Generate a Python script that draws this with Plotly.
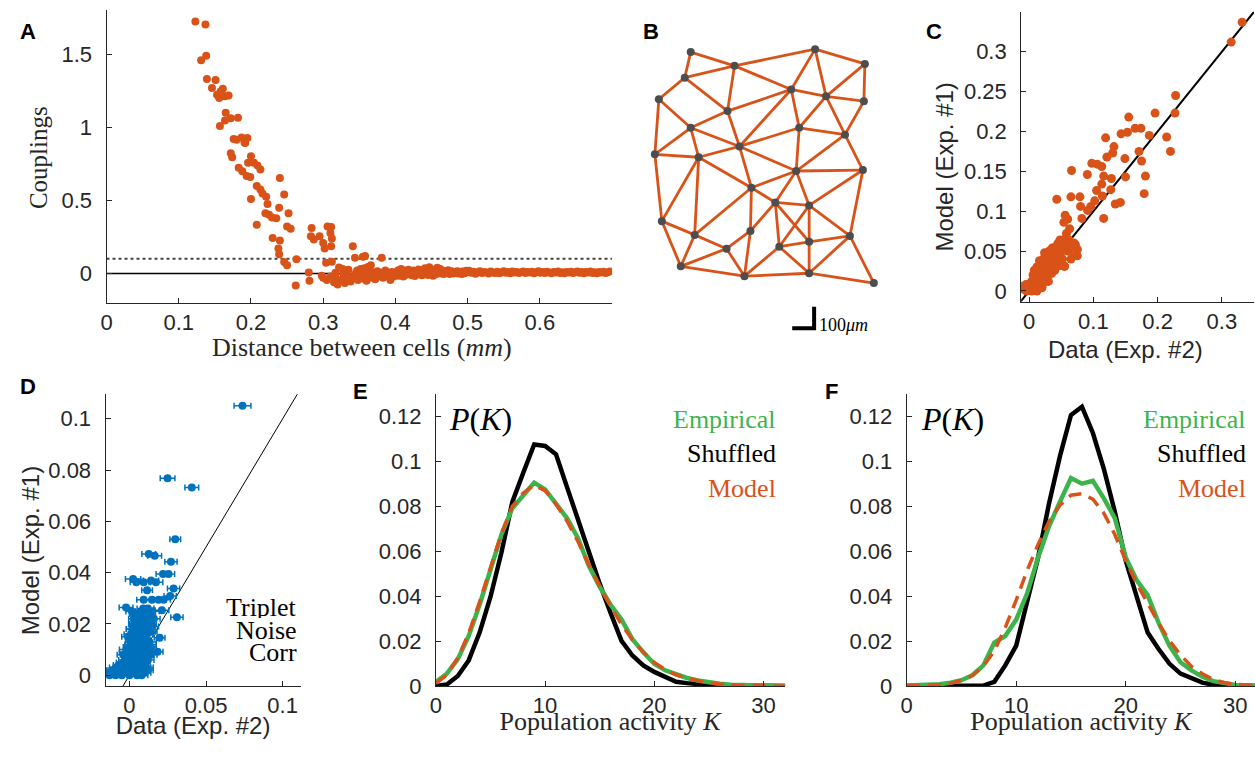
import plotly.graph_objects as go

W, H = 1255, 759
ORANGE = '#D95319'
GREEN = '#3CB44B'
BLUE = '#0072BD'
GRAY = '#4D4D4D'
AX = '#262626'

# ---------------- Panel A: couplings vs distance ----------------
a_dist = [0.123,0.137,0.131,0.138,0.139,0.151,0.146,0.153,0.156,0.158,0.161,0.164,0.169,0.157,0.165,0.164,0.172,0.182,
          0.176,0.180,0.187,0.191,0.195,0.192,0.172,0.174,0.183,0.188,0.194,0.199,0.196,0.200,0.204,0.209,0.213,0.200,
          0.208,0.213,0.216,0.221,0.223,0.220,0.225,0.229,0.235,0.208,0.239,0.240,0.246,0.252,0.250,0.255,0.230,0.240,
          0.238,0.239,0.246,0.250,0.263,0.262,0.280,0.281,0.284,0.283,0.287,0.295,0.300,0.302,0.306,0.311,0.310,0.312,
          0.311,0.304,0.312,0.298,0.322,0.341,0.344,0.355,0.358,0.366,0.381,
          0.300,0.305,0.310,0.315,0.318,0.320,0.325,0.328,0.330,0.333,0.336,0.338,0.342,0.345,0.348,0.350,0.352,0.355,
          0.358,0.360,0.362,0.365,0.368,0.370,0.372,0.375,0.378,0.380,0.383,0.386,0.390,0.393,0.395,0.398,0.317,0.327,
          0.347,0.362,0.335,0.357,
          0.402,0.405,0.408,0.410,0.413,0.415,0.418,0.420,0.423,0.425,0.428,0.430,0.433,0.436,0.438,0.441,0.443,0.445,
          0.447,0.449,0.451,0.454,0.456,0.458,0.460,0.463,0.466,0.469,0.472,0.475,0.478,0.481,0.484,0.487,0.490,0.493,
          0.496,0.499,0.502,0.505,0.508,0.511,0.514,0.517,0.520,0.523,0.526,0.529,0.532,0.535,0.538,0.541,0.544,0.547,
          0.550,0.553,0.556,0.559,0.562,0.565,0.568,0.571,0.574,0.577,0.580,0.583,0.586,0.589,0.592,0.595,0.598,0.601,
          0.604,0.607,0.610,0.613,0.616,0.619,0.622,0.625,0.628,0.631,0.634,0.637,0.640,0.643,0.646,0.649,0.652,0.655,
          0.658,0.661,0.664,0.667,0.670,0.673,0.676,0.679,0.682,0.685,0.688,0.691,0.694,0.697,
          0.404,0.411,0.417,0.422,0.427,0.432,0.437,0.442,0.448,0.452,0.457,0.462,0.467,0.473,0.480,0.486,0.492,0.498]
a_coupling = [1.723,1.703,1.459,1.489,1.331,1.324,1.268,1.223,1.200,1.245,1.263,1.212,1.218,1.009,1.099,1.047,1.061,1.065,
              0.919,0.914,0.930,0.896,0.926,0.892,0.822,0.795,0.723,0.700,0.667,0.660,0.757,0.802,0.757,0.739,0.712,0.509,
              0.599,0.574,0.547,0.525,0.475,0.412,0.401,0.383,0.378,0.333,0.450,0.653,0.541,0.412,0.322,0.306,0.243,0.225,
              0.171,0.131,0.079,0.056,0.097,-0.083,0.007,-0.050,0.311,0.255,0.232,0.255,0.209,0.171,0.322,0.318,0.277,0.239,
              0.187,0.074,0.081,-0.016,0.041,0.187,0.108,0.115,0.119,0.056,0.108,
              -0.030,-0.045,-0.020,-0.060,-0.035,-0.075,-0.050,-0.010,-0.065,-0.040,-0.020,-0.055,-0.030,0.000,-0.045,-0.015,
              0.030,-0.035,0.010,-0.050,-0.020,0.020,-0.030,0.000,-0.040,0.015,-0.020,0.005,-0.030,0.020,-0.010,-0.045,0.010,
              -0.020,0.005,0.030,0.020,0.045,0.025,0.035,
              0.012,-0.015,0.030,0.000,0.018,-0.008,0.025,0.005,-0.012,0.020,0.002,0.010,-0.005,0.015,0.000,0.035,0.008,-0.010,
              0.042,0.020,0.005,0.025,-0.006,0.040,0.012,0.000,0.018,0.006,0.010,-0.004,0.015,0.004,0.012,0.000,0.008,0.014,
              0.002,0.010,0.018,0.005,0.012,-0.002,0.009,0.015,0.003,0.011,0.006,0.000,0.013,0.007,0.004,0.012,0.001,0.009,
              0.015,0.005,0.010,0.002,0.013,0.007,0.011,0.003,0.009,0.014,0.004,0.010,0.006,0.012,0.001,0.008,0.015,0.005,
              0.010,0.003,0.012,0.007,0.002,0.011,0.006,0.013,0.004,0.009,0.001,0.010,0.006,0.012,0.003,0.008,0.014,0.005,
              0.010,0.002,0.011,0.006,0.013,0.004,0.009,0.001,0.010,0.007,0.012,0.003,0.009,0.014,
              0.022,-0.020,0.008,0.015,-0.018,0.028,-0.012,0.003,0.012,-0.015,0.008,0.030,-0.004,0.022,0.000,0.016,-0.003,0.019]
a_threshold = 0.1
a_xrange = [0, 0.7]
a_yrange = [-0.2, 1.8]

# ---------------- Panel B: network of cells ----------------
node_x = [688,813,732,863,682,656,789,824,862,725,688,797,843,737,652,696,794,861,749,773,807,659,692,748,807,848,
          724,777,678,742,807,872]
node_y = [53,50,67,65,79,101,91,98,103,113,130,130,137,149,157,160,174,173,191,206,209,225,239,235,246,240,
          253,251,271,281,278,288]
edges = [(1,3),(1,5),(3,2),(2,4),(2,7),(2,8),(4,8),(4,9),(8,9),(5,3),(3,7),(3,10),(5,6),(5,10),(7,8),(7,10),(7,14),
         (7,12),(8,13),(9,13),(8,12),(6,11),(6,15),(10,11),(10,14),(11,14),(12,14),(12,13),(11,15),(11,16),(15,16),
         (16,14),(14,17),(14,19),(12,17),(13,17),(13,18),(17,18),(15,22),(16,22),(16,23),(16,19),(17,19),(17,20),
         (17,21),(19,20),(19,23),(19,24),(18,21),(18,26),(20,21),(20,24),(20,28),(20,25),(21,28),(21,25),(21,26),
         (22,23),(22,29),(23,29),(23,27),(24,27),(24,30),(28,25),(26,25),(27,29),(27,30),(28,30),(28,31),(25,31),
         (26,31),(26,32),(29,30),(30,31),(31,32)]
scalebar_len = 22   # 100 um in drawing units
scalebar_label = '100<i>μm</i>'

# ---------------- Panel C: data vs model ----------------
c_data = [0.3315,0.3145,0.228,0.227,0.196,0.155,0.165,0.174,0.153,0.143,0.187,0.214,0.119,0.132,0.171,0.220,0.130,0.121,
          0.149,0.175,0.0975,0.106,0.113,0.066,0.0906,0.116,0.150,0.181,0.128,0.113,0.105,0.127,0.179,0.114,0.043,0.065,
          0.079,0.102,0.142,0.134,0.080,0.096,0.091,0.056,0.082,0.116,0.060,0.054,0.063,0.058,0.072,0.075,0.055,
          -0.012,-0.010,-0.008,-0.006,-0.005,-0.003,-0.002,0.000,0.001,0.002,0.003,0.004,0.005,0.006,0.007,0.008,0.009,
          0.010,0.010,0.011,0.012,0.013,0.014,0.015,0.015,0.016,0.017,0.018,0.019,0.020,0.020,0.021,0.022,0.022,0.023,
          0.024,0.025,0.025,0.026,0.027,0.028,0.028,0.029,0.030,0.031,0.031,0.032,0.033,0.034,0.035,0.036,0.036,0.037,
          0.038,0.039,0.040,0.041,0.042,0.043,0.044,0.045,0.046,0.047,0.048,0.049,0.050,0.052,0.053,0.055,0.057,0.058,
          0.060,0.062,0.064,0.066,0.071,0.075,0.070,0.048,0.052,0.044,0.012,0.006,0.016,0.024,0.008,0.030,0.018,0.035,
          0.040,0.055,0.065,0.004,-0.004,0.012,0.020]
c_model = [0.337,0.312,0.245,0.223,0.223,0.218,0.204,0.204,0.199,0.197,0.195,0.193,0.192,0.181,0.175,0.175,0.173,0.168,
           0.166,0.163,0.160,0.159,0.156,0.151,0.146,0.144,0.143,0.144,0.141,0.134,0.126,0.127,0.122,0.119,0.115,0.118,
           0.118,0.113,0.111,0.109,0.106,0.106,0.101,0.095,0.091,0.091,0.090,0.086,0.078,0.072,0.058,0.044,0.031,
           0.003,0.006,0.002,0.005,0.008,0.003,0.006,0.004,0.009,0.002,0.006,0.012,0.004,0.008,0.015,0.003,0.010,
           0.018,0.006,0.013,0.022,0.008,0.016,0.026,0.011,0.020,0.030,0.014,0.024,0.034,0.018,0.028,0.040,0.010,0.022,
           0.032,0.044,0.016,0.026,0.036,0.046,0.020,0.030,0.040,0.050,0.024,0.034,0.044,0.028,0.038,0.048,0.054,0.032,
           0.042,0.052,0.036,0.046,0.056,0.040,0.050,0.060,0.044,0.054,0.064,0.048,0.058,0.052,0.062,0.056,0.066,0.060,
           0.050,0.064,0.058,0.055,0.045,0.052,0.060,0.032,0.040,0.036,0.030,0.020,0.038,0.048,0.026,0.012,0.006,0.022,
           0.026,0.031,0.040,0.000,0.000,0.000,0.004]
c_range = [-0.0125, 0.35]
c_yrange = [-0.0135, 0.35]

# ---------------- Panel D: triplet noise correlations ----------------
d_data = [0.0738,0.0249,0.0407,0.0299,0.0126,0.0165,0.0271,0.0219,0.0255,0.0024,0.0045,0.0093,0.0141,0.0173,0.0288,
          0.0115,0.0266,0.0093,0.0147,0.0190,0.0223,-0.0022,0.0017,0.0212,0.0310,0.0197,0.0184,
          -0.012,-0.010,-0.008,-0.009,-0.006,-0.005,-0.004,-0.003,-0.002,-0.001,0.000,0.001,0.002,0.003,0.004,0.005,
          0.006,0.007,0.008,0.009,0.010,0.011,-0.003,-0.001,0.000,0.001,0.002,0.003,0.004,0.005,0.006,0.007,0.008,
          0.009,0.010,0.011,0.012,-0.002,0.000,0.001,0.002,0.003,0.004,0.005,0.006,0.007,0.008,0.009,0.010,0.011,
          0.012,-0.001,0.001,0.002,0.003,0.004,0.005,0.006,0.007,0.008,0.009,0.010,0.011,0.013,0.003,0.005,0.006,
          0.007,0.008,0.009,0.010,0.011,0.012,0.013,0.014,0.004,0.012,0.015,0.016,-0.007,-0.011,0.014,0.013,
          -0.013,-0.011,-0.009,-0.007,-0.005,-0.004,-0.002,0.000,0.002,0.004,0.006,0.008,0.010,0.012,-0.004,-0.002,
          0.000,0.002,0.004,0.006,0.008,0.010,0.012,0.014,0.001,0.003,0.005,0.007,0.009,0.011,0.013,0.002,0.004,
          0.006,0.008,0.010,0.012,0.014,0.003,0.005,0.007,0.009,0.011,0.013,0.015,0.006,0.008,0.010,0.012,0.009]
d_model = [0.1051,0.0768,0.0732,0.0530,0.0473,0.0466,0.0443,0.0395,0.0395,0.0375,0.0363,0.0363,0.0369,0.0363,0.0338,
           0.0331,0.0309,0.0294,0.0294,0.0294,0.0294,0.0264,0.0249,0.0253,0.0226,0.0146,0.0092,
           0.001,0.002,0.001,0.003,0.002,0.000,0.003,0.001,0.004,0.002,0.000,0.003,0.001,0.004,0.002,0.000,
           0.003,0.001,0.004,0.002,0.001,0.003,0.006,0.007,0.005,0.008,0.006,0.009,0.007,0.005,0.008,0.006,0.009,
           0.007,0.005,0.008,0.006,0.010,0.011,0.013,0.010,0.012,0.014,0.011,0.013,0.010,0.012,0.014,0.011,0.013,
           0.010,0.015,0.016,0.018,0.015,0.017,0.019,0.016,0.018,0.015,0.017,0.019,0.016,0.017,0.020,0.022,0.020,
           0.023,0.021,0.024,0.022,0.025,0.021,0.023,0.020,0.024,0.026,0.025,0.022,0.004,0.002,0.008,0.013,
           0.000,0.001,0.000,0.002,0.001,0.005,0.004,0.002,0.003,0.001,0.002,0.000,0.003,0.002,0.008,0.009,
           0.007,0.006,0.009,0.010,0.007,0.009,0.008,0.011,0.012,0.014,0.016,0.013,0.015,0.017,0.012,0.018,0.020,
           0.019,0.021,0.018,0.019,0.017,0.022,0.024,0.021,0.023,0.020,0.022,0.019,0.024,0.025,0.023,0.024,0.026]
d_err = [0.0055,0.0048,0.0045,0.0035,0.0045,0.0045,0.0040,0.0045,0.0040,0.0050,0.0040,0.0045,0.0050,0.0045,0.0040,
         0.0035,0.0040,0.0045,0.0050,0.0050,0.0045,0.0045,0.0040,0.0045,0.0040,0.0035,0.0035,
         0.0040,0.0040,0.0035,0.0040,0.0040,0.0035,0.0040,0.0045,0.0040,0.0035,0.0040,0.0045,0.0040,0.0040,0.0035,
         0.0040,0.0045,0.0040,0.0040,0.0035,0.0040,0.0045,0.0040,0.0040,0.0035,0.0040,0.0045,0.0040,0.0040,0.0035,
         0.0040,0.0045,0.0040,0.0040,0.0035,0.0040,0.0040,0.0045,0.0040,0.0035,0.0040,0.0040,0.0045,0.0040,0.0035,
         0.0040,0.0040,0.0045,0.0040,0.0035,0.0040,0.0040,0.0045,0.0040,0.0035,0.0040,0.0040,0.0045,0.0040,0.0035,
         0.0040,0.0040,0.0045,0.0040,0.0035,0.0040,0.0040,0.0045,0.0040,0.0035,0.0040,0.0040,0.0045,0.0040,0.0035,
         0.0040,0.0040,0.0045,0.0040,0.0035,0.0040,0.0040,0.0045,
         0.0040,0.0045,0.0040,0.0035,0.0040,0.0045,0.0040,0.0040,0.0035,0.0040,0.0045,0.0040,0.0040,0.0035,0.0040,
         0.0045,0.0040,0.0040,0.0035,0.0040,0.0045,0.0040,0.0040,0.0035,0.0040,0.0045,0.0040,0.0040,0.0035,0.0040,
         0.0045,0.0040,0.0040,0.0035,0.0040,0.0045,0.0040,0.0040,0.0035,0.0040,0.0045,0.0040,0.0040,0.0035,0.0040,
         0.0045,0.0040,0.0040,0.0035,0.0040]
d_xrange = [-0.0156, 0.1117]
d_yrange = [-0.0042, 0.1096]

# ---------------- Panels E, F: population activity ----------------
K = list(range(33))
e_empirical = [0.0019,0.0055,0.012,0.0223,0.0362,0.0515,0.0675,0.0792,0.085,0.0906,0.0876,0.0814,0.0748,0.066,0.0537,
               0.0442,0.0362,0.0296,0.0209,0.015,0.0099,0.007,0.0052,0.0036,0.0025,0.0016,0.001,0.0006,0.0004,0.0002,
               0.0001,0.0001,0]
e_shuffled = [0,0.0007,0.0045,0.0114,0.0238,0.0398,0.0595,0.082,0.095,0.1076,0.1069,0.1032,0.0887,0.074,0.0602,
              0.0456,0.0325,0.0201,0.0136,0.0092,0.0063,0.0041,0.0019,0.0013,0.0008,0.0005,0.0003,0.0002,0.0001,
              0.0001,0,0,0]
e_model = [0.0012,0.005,0.0125,0.0235,0.0375,0.053,0.068,0.08,0.086,0.0895,0.087,0.081,0.0735,0.0645,0.054,0.0445,
           0.0355,0.0275,0.0205,0.015,0.0105,0.0073,0.005,0.0034,0.0022,0.0014,0.0009,0.0005,0.0003,0.0002,0.0001,
           0.0001,0]
f_empirical = [0.0002,0.0003,0.0005,0.0008,0.0015,0.0026,0.0048,0.0092,0.0194,0.0223,0.0296,0.0413,0.0573,0.0712,
               0.0821,0.0926,0.0901,0.0914,0.0836,0.0748,0.0573,0.0471,0.0405,0.0281,0.0179,0.0106,0.007,0.0041,
               0.0022,0.0011,0.0005,0.0003,0.0002]
f_shuffled = [0,0,0,0,0,0,0,0.0002,0.0019,0.0092,0.018,0.0369,0.0573,0.0814,0.1025,0.1207,0.1244,0.1127,0.0967,
              0.0777,0.0558,0.0398,0.0238,0.0165,0.0099,0.0055,0.0034,0.0015,0.0006,0.0002,0.0001,0,0]
f_model = [0.0001,0.0002,0.0003,0.0006,0.0012,0.0025,0.0048,0.0088,0.0157,0.026,0.0383,0.0515,0.0631,0.0733,0.0806,
           0.085,0.0857,0.0832,0.077,0.0675,0.0558,0.0456,0.0369,0.0281,0.0201,0.0139,0.0087,0.0055,0.0029,0.0015,
           0.0008,0.0004,0.0002]
pk_ticks = [0, 0.02, 0.04, 0.06, 0.08, 0.1, 0.12]
pk_ticktext = ['0', '0.02', '0.04', '0.06', '0.08', '0.1', '0.12']
legend_names = ['Empirical', 'Shuffled', 'Model']

# ---------------- helpers ----------------
def px(x):
    return x / W

def py(y):
    return 1 - y / H

TICKFONT = dict(family='Liberation Sans, Arial, sans-serif', size=22, color=AX)
SERIF = 'Liberation Serif, Times New Roman, serif'
SANS = 'Liberation Sans, Arial, sans-serif'

def axis(domain, rng, standoff, **kw):
    d = dict(domain=domain, range=rng, showline=True, linecolor=AX, linewidth=1, ticks='inside', ticklen=5,
             tickcolor=AX, tickwidth=1, tickfont=TICKFONT, showgrid=False, zeroline=False, mirror=False,
             ticklabelstandoff=standoff)
    d.update(kw)
    return d

fig = go.Figure()

# A
fig.add_trace(go.Scatter(x=a_xrange, y=[0, 0], mode='lines', line=dict(color='black', width=1.5),
                         xaxis='x', yaxis='y', showlegend=False, hoverinfo='skip'))
fig.add_trace(go.Scatter(x=a_xrange, y=[a_threshold, a_threshold], mode='lines',
                         line=dict(color='#444444', width=2, dash='dot'),
                         xaxis='x', yaxis='y', showlegend=False, hoverinfo='skip'))
fig.add_trace(go.Scatter(x=a_dist, y=a_coupling, mode='markers', marker=dict(color=ORANGE, size=8),
                         xaxis='x', yaxis='y', showlegend=False))

# B
ex, ey = [], []
for i, j in edges:
    ex += [node_x[i - 1], node_x[j - 1], None]
    ey += [node_y[i - 1], node_y[j - 1], None]
fig.add_trace(go.Scatter(x=ex, y=ey, mode='lines', line=dict(color=ORANGE, width=2.8),
                         xaxis='x2', yaxis='y2', showlegend=False, hoverinfo='skip'))
fig.add_trace(go.Scatter(x=node_x, y=node_y, mode='markers', marker=dict(color=GRAY, size=8),
                         xaxis='x2', yaxis='y2', showlegend=False))
sb_x0, sb_y0 = 812, 334
fig.add_trace(go.Scatter(x=[sb_x0 - scalebar_len, sb_x0, sb_x0], y=[sb_y0, sb_y0, sb_y0 - scalebar_len],
                         mode='lines', line=dict(color='black', width=4),
                         xaxis='x2', yaxis='y2', showlegend=False, hoverinfo='skip'))

# C
fig.add_trace(go.Scatter(x=[c_yrange[0], 0.36], y=[c_yrange[0], 0.36], mode='lines',
                         line=dict(color='black', width=2), xaxis='x3', yaxis='y3', showlegend=False,
                         hoverinfo='skip'))
fig.add_trace(go.Scatter(x=c_data, y=c_model, mode='markers', marker=dict(color=ORANGE, size=9),
                         xaxis='x3', yaxis='y3', showlegend=False))

# D
fig.add_trace(go.Scatter(x=[d_yrange[0], 0.12], y=[d_yrange[0], 0.12], mode='lines',
                         line=dict(color='black', width=1), xaxis='x4', yaxis='y4', showlegend=False,
                         hoverinfo='skip'))
fig.add_trace(go.Scatter(x=d_data, y=d_model, mode='markers', marker=dict(color=BLUE, size=8),
                         error_x=dict(type='data', array=d_err, color=BLUE, thickness=1.5, width=3),
                         xaxis='x4', yaxis='y4', showlegend=False))

# E, F
for xa, ya, emp, shu, mod in [('x5', 'y5', e_empirical, e_shuffled, e_model),
                              ('x6', 'y6', f_empirical, f_shuffled, f_model)]:
    fig.add_trace(go.Scatter(x=K, y=shu, mode='lines', line=dict(color='black', width=4.5),
                             xaxis=xa, yaxis=ya, showlegend=False))
    fig.add_trace(go.Scatter(x=K, y=emp, mode='lines', line=dict(color=GREEN, width=4.5),
                             xaxis=xa, yaxis=ya, showlegend=False))
    fig.add_trace(go.Scatter(x=K, y=mod, mode='lines', line=dict(color=ORANGE, width=3.5, dash='13px,8px'),
                             xaxis=xa, yaxis=ya, showlegend=False))

# bottom-row x titles as text marks on a full-figure overlay (pixel frame)
fig.add_trace(go.Scatter(x=[188], y=[741], mode='text', text=['Data (Exp. #2)'],
                         textfont=dict(family=SANS, size=24, color=AX), textposition='middle center',
                         xaxis='x7', yaxis='y7', showlegend=False, hoverinfo='skip', cliponaxis=False))
fig.add_trace(go.Scatter(x=[607, 1080], y=[736, 736], mode='text',
                         text=['Population activity <i>K</i>', 'Population activity <i>K</i>'],
                         textfont=dict(family=SERIF, size=26, color=AX), textposition='middle center',
                         xaxis='x7', yaxis='y7', showlegend=False, hoverinfo='skip', cliponaxis=False))

YS, XS = 9, 0
layout = dict(
    width=W, height=H, margin=dict(l=0, r=0, t=0, b=0), paper_bgcolor='white', plot_bgcolor='rgba(0,0,0,0)',
    showlegend=False,
    xaxis=axis([px(101), px(609)], a_xrange, XS, tickvals=[0, 0.1, 0.2, 0.3, 0.4, 0.5, 0.6],
               ticktext=['0', '0.1', '0.2', '0.3', '0.4', '0.5', '0.6'], anchor='y'),
    yaxis=axis([py(308), py(10.5)], a_yrange, YS, tickvals=[0, 0.5, 1, 1.5], ticktext=['0', '0.5', '1', '1.5'],
               anchor='x'),
    xaxis2=dict(domain=[px(640), px(890)], range=[640, 890], visible=False, anchor='y2'),
    yaxis2=dict(domain=[py(345), py(40)], range=[345, 40], visible=False, anchor='x2'),
    xaxis3=axis([px(1020), px(1254)], c_range, XS, tickvals=[0, 0.1, 0.2, 0.3],
                ticktext=['0', '0.1', '0.2', '0.3'], anchor='y3'),
    yaxis3=axis([py(307), py(12)], c_yrange, YS, tickvals=[0, 0.05, 0.1, 0.15, 0.2, 0.25, 0.3],
                ticktext=['0', '0.05', '0.1', '0.15', '0.2', '0.25', '0.3'], anchor='x3'),
    xaxis4=axis([px(100), px(296)], d_xrange, XS, tickvals=[0, 0.05, 0.1], ticktext=['0', '0.05', '0.1'],
                anchor='y4'),
    yaxis4=axis([py(698), py(401)], d_yrange, YS, tickvals=[0, 0.02, 0.04, 0.06, 0.08, 0.1],
                ticktext=['0', '0.02', '0.04', '0.06', '0.08', '0.1'], anchor='x4'),
    xaxis5=axis([px(432), px(783)], [0, 32], XS, tickvals=[0, 10, 20, 30], ticktext=['0', '10', '20', '30'],
                anchor='y5'),
    yaxis5=axis([py(698), py(401)], [0, 0.13], YS, tickvals=pk_ticks, ticktext=pk_ticktext, anchor='x5'),
    xaxis6=axis([px(905), 1.0], [0, 31.8], XS, tickvals=[0, 10, 20, 30], ticktext=['0', '10', '20', '30'],
                anchor='y6'),
    yaxis6=axis([py(698), py(401)], [0, 0.13], YS, tickvals=pk_ticks, ticktext=pk_ticktext, anchor='x6'),
    xaxis7=dict(domain=[0, 1], range=[0, W], visible=False, anchor='y7', fixedrange=True),
    yaxis7=dict(domain=[0, 1], range=[H, 0], visible=False, anchor='x7', fixedrange=True),
)
fig.update_layout(**layout)

ann = []
def text(x, y, s, size, family, color='black', xanchor='center', yanchor='middle', angle=0, height=None):
    d = dict(x=px(x), y=py(y), xref='paper', yref='paper', text=s, showarrow=False,
             font=dict(size=size, family=family, color=color), xanchor=xanchor, yanchor=yanchor,
             textangle=angle)
    if height is not None:
        d['height'] = height
    ann.append(d)

# panel letters
for lab, x, y in [('A', 22, 32), ('B', 648, 32), ('C', 932, 32), ('D', 22, 393), ('E', 356, 398), ('F', 829, 398)]:
    text(x, y, '<b>%s</b>' % lab, 22, SANS)

# axis titles
text(358, 354, 'Distance between cells (<i>mm</i>)', 26, SERIF, color=AX)
text(32, 160, 'Couplings', 25, SERIF, color=AX, angle=-90)
text(1125, 356, 'Data (Exp. #2)', 24, SANS, color=AX)
text(943, 170, 'Model (Exp. #1)', 24, SANS, color=AX, angle=-90)
text(25, 560, 'Model (Exp. #1)', 24, SANS, color=AX, angle=-90)

# D inset text
text(294, 618, 'Triplet', 26, SERIF, xanchor='right', height=21)
text(294, 641, 'Noise', 26, SERIF, xanchor='right', height=21)
text(294, 664, 'Corr', 26, SERIF, xanchor='right', height=21)

# E/F legends
for xr, xl in [(776, 443), (1248, 917)]:
    text(xl, 426, '<i>P</i>(<i>K</i>)', 32, SERIF, xanchor='left')
    text(xr, 426, legend_names[0], 26, SERIF, color=GREEN, xanchor='right', height=30)
    text(xr, 461, legend_names[1], 26, SERIF, color='black', xanchor='right', height=30)
    text(xr, 496, legend_names[2], 26, SERIF, color=ORANGE, xanchor='right', height=30)

# scale bar label
text(815, 331, scalebar_label, 18, SERIF, xanchor='left')

fig.update_layout(annotations=ann)
fig.write_html('out.html')
